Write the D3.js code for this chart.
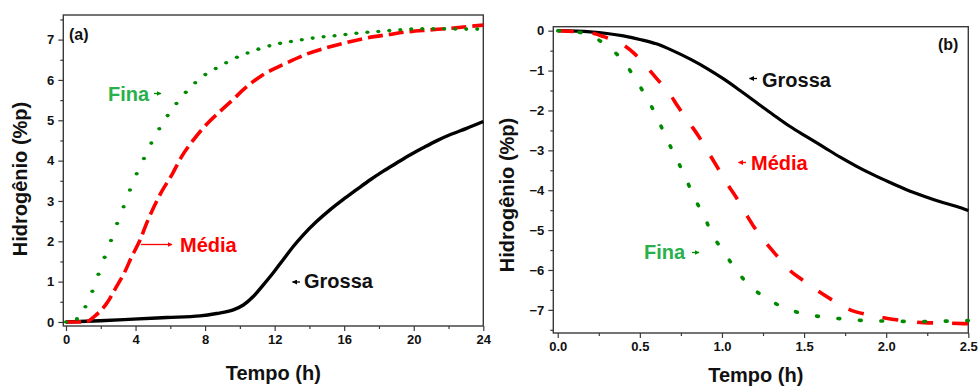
<!DOCTYPE html>
<html><head><meta charset="utf-8">
<script src="https://cdn.jsdelivr.net/npm/d3@7"></script>
<style>
body{margin:0;background:#fff}
svg{display:block}
text{font-family:"Liberation Sans",Arial,sans-serif;font-weight:bold}
</style>
</head><body>
<svg id="c" width="980" height="387"></svg>
<script>
// ---- Panel (a): absorption ----
const aFinaT = [0,0.4,0.77,1.23,1.63,1.92,2.22,2.59,2.95,3.3,3.64,4.06,4.58,5.02,5.52,6.08,6.84,7.51,8.18,8.82,9.43,10.1,10.77,11.92,13.17,14.41,15.57,16.72,17.96,19.1,20.36,21.7,22.85,24];
const aFinaH = [0,0.03,0.13,0.48,0.89,1.25,1.6,2.02,2.45,2.84,3.23,3.67,4.14,4.53,4.9,5.26,5.67,5.96,6.18,6.33,6.48,6.61,6.72,6.87,6.97,7.05,7.1,7.16,7.2,7.24,7.27,7.27,7.26,7.26];
const aMediaT = [0,0.6,1.19,1.67,2.34,2.91,3.39,3.78,4.26,4.64,5.02,5.5,6.08,6.65,7.32,8.09,8.86,9.62,10.2,11.16,12.69,13.84,14.99,16.14,17.29,18.63,19.59,20.93,22.08,23.04,24];
const aMediaH = [0,0,0.01,0.15,0.46,0.88,1.25,1.62,2.03,2.45,2.82,3.23,3.64,4.1,4.51,4.9,5.22,5.52,5.76,6.08,6.42,6.64,6.8,6.93,7.04,7.13,7.19,7.24,7.28,7.32,7.36];
const aGrossaT = [0,1.96,3.87,5.79,7.71,8.66,9.62,10.2,10.77,11.35,11.92,12.5,13.07,13.65,14.41,15.18,15.95,16.71,17.48,18.25,19.01,19.78,20.55,21.31,22.08,23.04,24];
const aGrossaH = [0,0.03,0.07,0.11,0.15,0.21,0.3,0.42,0.63,0.92,1.22,1.55,1.87,2.16,2.49,2.78,3.04,3.28,3.52,3.74,3.94,4.14,4.32,4.49,4.64,4.8,4.97];

// ---- Panel (b): desorption ----
const bGrossaT = [0,0.197,0.3,0.4,0.5,0.6,0.7,0.81,0.91,1.01,1.11,1.21,1.31,1.41,1.52,1.62,1.72,1.82,1.92,2.02,2.12,2.23,2.33,2.43,2.5];
const bGrossaH = [0,-0.03,-0.07,-0.13,-0.22,-0.33,-0.5,-0.72,-0.95,-1.21,-1.5,-1.8,-2.1,-2.39,-2.67,-2.92,-3.17,-3.4,-3.61,-3.8,-3.98,-4.15,-4.29,-4.41,-4.51];
const bMediaT = [0,0.1,0.22,0.28,0.4,0.46,0.54,0.6,0.68,0.73,0.81,0.86,0.92,0.97,1.03,1.09,1.15,1.2,1.27,1.33,1.41,1.49,1.59,1.67,1.78,1.9,2.0,2.1,2.23,2.35,2.5];
const bMediaH = [0,-0.02,-0.07,-0.15,-0.36,-0.55,-0.9,-1.19,-1.57,-1.89,-2.36,-2.66,-3.07,-3.41,-3.83,-4.2,-4.62,-4.95,-5.33,-5.62,-6.0,-6.25,-6.54,-6.75,-7.0,-7.13,-7.21,-7.27,-7.32,-7.33,-7.35];
const bFinaT = [0,0.116,0.23,0.32,0.41,0.48,0.55,0.61,0.66,0.72,0.78,0.83,0.89,0.94,1.01,1.08,1.16,1.26,1.37,1.5,1.62,1.75,1.88,2.0,2.14,2.27,2.39,2.5];
const bFinaH = [0,-0.03,-0.19,-0.44,-0.82,-1.26,-1.74,-2.22,-2.68,-3.18,-3.7,-4.18,-4.64,-5.1,-5.54,-5.96,-6.36,-6.68,-6.93,-7.1,-7.18,-7.23,-7.27,-7.28,-7.29,-7.29,-7.28,-7.27];

// ---- ticks ----
const aXTicks = [0,4,8,12,16,20,24];
const aXMinor = [2,6,10,14,18,22];
const aYTicks = [0,1,2,3,4,5,6,7];
const aYMinor = [0.5,1.5,2.5,3.5,4.5,5.5,6.5,7.5];
const bXTicks = [0,0.5,1.0,1.5,2.0,2.5];
const bXMinor = [0.25,0.75,1.25,1.75,2.25];
const bYTicks = [0,-1,-2,-3,-4,-5,-6,-7];
const bYMinor = [-0.5,-1.5,-2.5,-3.5,-4.5,-5.5,-6.5,-7.5];

const GREEN = "#008a00", RED = "#ff0000", BLACK = "#000", LGREEN = "#2ab04a";
const svg = d3.select("#c");

const defs = svg.append("defs");
function mk(id, col){
  defs.append("marker").attr("id", id).attr("viewBox","0 0 10 10").attr("refX",9).attr("refY",5)
    .attr("markerWidth",5).attr("markerHeight",5).attr("markerUnits","userSpaceOnUse").attr("orient","auto")
    .append("path").attr("d","M0,0L10,5L0,10z").attr("fill",col);
}
mk("ahR", RED); mk("ahK", BLACK); mk("ahG", GREEN);

function panel(o){
  const x = d3.scaleLinear().domain(o.xd).range([o.L, o.R]);
  const y = d3.scaleLinear().domain(o.yd).range([o.B, o.T]);
  const g = svg.append("g");
  g.append("rect").attr("x",o.L).attr("y",o.T).attr("width",o.R-o.L).attr("height",o.B-o.T)
    .attr("fill","none").attr("stroke","#3a3a3a").attr("stroke-width",1.4);
  const ax = g.append("g").attr("transform",`translate(0,${o.B})`)
    .call(d3.axisBottom(x).tickValues(o.xt).tickSize(5).tickPadding(4).tickFormat(o.xf));
  const axm = g.append("g").attr("transform",`translate(0,${o.B})`)
    .call(d3.axisBottom(x).tickValues(o.xm).tickSize(3).tickFormat(""));
  const ay = g.append("g").attr("transform",`translate(${o.L},0)`)
    .call(d3.axisLeft(y).tickValues(o.yt).tickSize(5).tickPadding(4).tickFormat(d3.format("d")));
  const aym = g.append("g").attr("transform",`translate(${o.L},0)`)
    .call(d3.axisLeft(y).tickValues(o.ym).tickSize(3).tickFormat(""));
  [ax,axm,ay,aym].forEach(a=>{a.select(".domain").remove(); a.selectAll("line").attr("stroke","#3a3a3a").attr("stroke-width",1.2);});
  [ax,ay].forEach(a=>a.selectAll("text").attr("font-size",13).attr("fill","#111").style("font-family",'"Liberation Sans",Arial,sans-serif').style("font-weight","bold"));
  g.append("text").attr("x",(o.L+o.R)/2 + o.xtOff).attr("y",o.xtY).attr("text-anchor","middle").attr("font-size",20).attr("fill","#111").text("Tempo (h)");
  g.append("text").attr("transform",`translate(${o.ytX},${o.ytY}) rotate(-90)`).attr("text-anchor","middle")
    .attr("dominant-baseline","central").attr("font-size",20).attr("fill","#111").text("Hidrogênio (%p)");
  const clip = "clip"+o.id;
  defs.append("clipPath").attr("id",clip).append("rect").attr("x",o.L).attr("y",o.T-3).attr("width",o.R-o.L+2).attr("height",o.B-o.T+3);
  const cg = g.append("g").attr("clip-path",`url(#${clip})`);
  return {x,y,g,cg};
}

function drawLine(p, T, H, style){
  const data = T.map((t,i)=>[t,H[i]]);
  const line = d3.line().x(d=>p.x(d[0])).y(d=>p.y(d[1])).curve(d3.curveMonotoneX);
  return p.cg.append("path").attr("d", line(data)).attr("fill","none")
    .attr("stroke", style.c).attr("stroke-width", style.w)
    .attr("stroke-dasharray", style.dash || null).attr("stroke-linecap", style.cap || "butt")
    .attr("stroke-linejoin","round");
}

// dotted line with dot spacing measured in an anisotropic metric (y compressed by k)
function dotsAlong(p, T, H, col, period, k, r){
  const path = drawLine(p, T, H, {c:"none", w:0});
  const node = path.node(), L = node.getTotalLength();
  let prev = node.getPointAtLength(0), acc = period; const pts = [];
  for(let s=0; s<=L; s+=0.5){
    const q = node.getPointAtLength(s);
    acc += Math.hypot(q.x-prev.x, (q.y-prev.y)/k);
    prev = q;
    if(acc >= period){ pts.push(q); acc = 0; }
  }
  path.remove();
  p.cg.selectAll(null).data(pts).enter().append("ellipse")
    .attr("cx",d=>d.x).attr("cy",d=>d.y).attr("rx",r).attr("ry",r*0.85).attr("fill",col);
}

// ---- Panel (a) ----
const pa = panel({id:"a", xd:[-0.155,24], yd:[-0.1,7.61], L:63.3, R:483.3, T:15, B:326,
  xt:aXTicks, xm:aXMinor, yt:aYTicks, ym:aYMinor, xf:d3.format("d"),
  xtOff:0, xtY:380, ytX:20, ytY:179});
drawLine(pa, aGrossaT, aGrossaH, {c:BLACK, w:3.4});
drawLine(pa, aMediaT, aMediaH, {c:RED, w:3.6, dash:"15,6"});
dotsAlong(pa, aFinaT, aFinaH, GREEN, 10.7, 1.9, 2.1);

pa.g.append("text").attr("x",69).attr("y",40).attr("font-size",16).attr("fill","#111").text("(a)");
pa.g.append("text").attr("x",108).attr("y",101).attr("font-size",20).attr("fill",LGREEN).text("Fina");
pa.g.append("path").attr("d","M154,93.5L161,93.5").attr("stroke",GREEN).attr("stroke-width",1.3).attr("marker-end","url(#ahG)");
pa.g.append("text").attr("x",180).attr("y",252).attr("font-size",20).attr("fill",RED).text("Média");
pa.g.append("path").attr("d","M141,244.5L172,244.5").attr("stroke",RED).attr("stroke-width",1.3).attr("marker-end","url(#ahR)");
pa.g.append("text").attr("x",304).attr("y",288).attr("font-size",20).attr("fill","#111").text("Grossa");
pa.g.append("path").attr("d","M300,282L292.5,282").attr("stroke",BLACK).attr("stroke-width",1.3).attr("marker-end","url(#ahK)");

// ---- Panel (b) ----
const pb = panel({id:"b", xd:[-0.027,2.5], yd:[-7.58,0.1], L:553.3, R:968.3, T:26.7, B:333,
  xt:bXTicks, xm:bXMinor, yt:bYTicks, ym:bYMinor, xf:d3.format(".1f"),
  xtOff:-5, xtY:382, ytX:507, ytY:195});
drawLine(pb, bGrossaT, bGrossaH, {c:BLACK, w:3.2});
drawLine(pb, bMediaT, bMediaH, {c:RED, w:3.6, dash:"16,19"});
drawLine(pb, bFinaT, bFinaH, {c:GREEN, w:3.6, dash:"1.8,19.7", cap:"round"});

pb.g.append("text").attr("x",938).attr("y",50).attr("font-size",16).attr("fill","#111").text("(b)");
pb.g.append("text").attr("x",762).attr("y",87).attr("font-size",20).attr("fill","#111").text("Grossa");
pb.g.append("path").attr("d","M757,78.5L749.5,78.5").attr("stroke",BLACK).attr("stroke-width",1.3).attr("marker-end","url(#ahK)");
pb.g.append("text").attr("x",751).attr("y",170).attr("font-size",20).attr("fill",RED).text("Média");
pb.g.append("path").attr("d","M746,162.5L738.5,162.5").attr("stroke",RED).attr("stroke-width",1.3).attr("marker-end","url(#ahR)");
pb.g.append("text").attr("x",644).attr("y",259).attr("font-size",20).attr("fill",LGREEN).text("Fina");
pb.g.append("path").attr("d","M692,252.5L699,252.5").attr("stroke",GREEN).attr("stroke-width",1.3).attr("marker-end","url(#ahG)");
</script>
</body></html>
